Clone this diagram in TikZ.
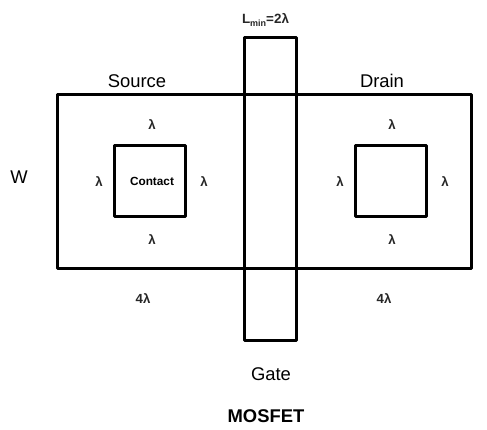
\documentclass[tikz,border=0pt]{standalone}
\usepackage{fontspec}
\setmainfont{Liberation Sans}
\usepackage{tikz}
\tikzset{
  outline/.style={draw=black, line width=3pt, inner sep=0pt, line join=round},
  biglabel/.style={inner sep=0pt, font=\fontsize{18.4}{20}\selectfont},
  lam/.style={inner sep=0pt, font=\fontsize{13.2}{15}\selectfont\bfseries, text=black!85},
}
\begin{document}
\begin{tikzpicture}[x=1pt,y=-1pt]
    \useasboundingbox (0,0) rectangle (487,429);
    % Diffusion
    \node[outline, minimum width=414.5pt, minimum height=174pt] (diff) at (264.3,181) {};
    % Gate
    \node[outline, minimum width=51.5pt, minimum height=303pt] (gate) at (270.5,188.5) {};
    % Contacts
    \node[outline, minimum width=71.5pt, minimum height=71.5pt] (cleft) at (149.8,181) {};
    \node[outline, minimum width=71.5pt, minimum height=71.5pt] (cright) at (390.8,181) {};
    % Top labels
    \node[biglabel] (source) at (137,81) {Source};
    \node[biglabel] (drain) at (382,81) {Drain};
    \node[biglabel] (width) at (19,177) {W};
    \node[biglabel] (gatename) at (271,374) {Gate};
    \node[inner sep=0pt, font=\fontsize{13.4}{15}\selectfont\bfseries, text=black!85] (lmin) at (265.5,20) {L\raisebox{-3.5pt}{\fontsize{9}{10}\selectfont min}=2λ};
    \node[inner sep=0pt, font=\fontsize{11.8}{13}\selectfont\bfseries] (contact) at (152,181) {Contact};
    \node[inner sep=0pt, font=\fontsize{18.4}{20}\selectfont\bfseries] (title) at (266,416) {MOSFET};
    % Lambda spacings
    \foreach \cx/\nm in {152/a,392/b} {
      \node[lam] (top\nm) at (\cx,124.5) {λ};
      \node[lam] (bot\nm) at (\cx,239.5) {λ};
    }
    \node[lam] (lefta) at (99,182) {λ};
    \node[lam] (righta) at (204,182) {λ};
    \node[lam] (leftb) at (340,182) {λ};
    \node[lam] (rightb) at (445,182) {λ};
    \node[lam] (foura) at (143,298.5) {4λ};
    \node[lam] (fourb) at (384,298.5) {4λ};
\end{tikzpicture}
\end{document}
